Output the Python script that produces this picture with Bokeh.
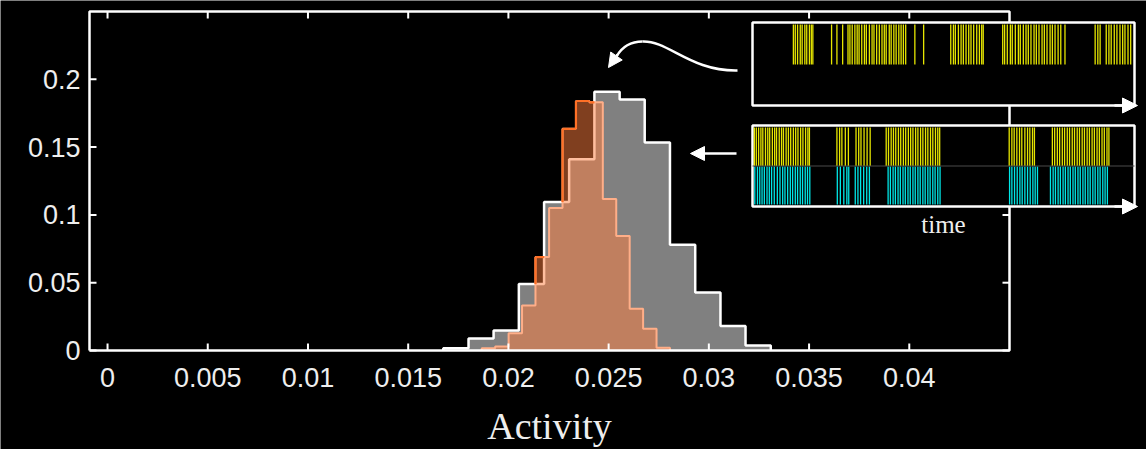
import numpy as np
from bokeh.plotting import figure
from bokeh.models import Range1d, Arrow, NormalHead
from bokeh.core.properties import value
from bokeh.embed import file_html
from bokeh.resources import INLINE

# ---------------- data ----------------
x_ticks = [0.0, 0.005, 0.01, 0.015, 0.02, 0.025, 0.03, 0.035, 0.04]
x_tick_labels = ["0", "0.005", "0.01", "0.015", "0.02", "0.025", "0.03", "0.035", "0.04"]
y_ticks = [0.0, 0.05, 0.1, 0.15, 0.2]
y_tick_labels = ["0", "0.05", "0.1", "0.15", "0.2"]
x_label = "Activity"
inset_label = "time"
XLIM = (-0.0009, 0.045)
YLIM = (0.0, 0.25)

# gray histogram (white outline)
gray_edges = [0.01675, 0.01801, 0.01926, 0.02052, 0.02178, 0.02303, 0.02429,
              0.02555, 0.0268, 0.02806, 0.02932, 0.03058, 0.03183, 0.03309]
gray_heights = [0.0017, 0.0088, 0.0148, 0.049, 0.1095, 0.141, 0.1908,
                0.1851, 0.1534, 0.078, 0.0428, 0.018, 0.0037]

# orange (semi-transparent) histogram
orange_edges = [0.01867, 0.01934, 0.02001, 0.02068, 0.02135, 0.02203, 0.0227, 0.02337,
                0.02404, 0.02471, 0.02538, 0.02605, 0.02672, 0.02739, 0.02806]
orange_heights = [0.0017, 0.003, 0.0128, 0.0332, 0.0689, 0.105, 0.1635,
                  0.184, 0.183, 0.1118, 0.0844, 0.0308, 0.016, 0.002]

# inset spike rasters, time in % of the inset width
top_spikes = [10.7, 11.2, 11.8, 12.5, 13.0, 13.7, 14.2, 14.9, 15.4, 15.8,
              20.7, 22.1, 23.6,
              25.0, 25.5, 26.1, 26.8, 27.4, 27.9, 28.6, 29.3, 29.8, 30.6, 31.3, 31.8, 32.5,
              33.2, 33.9, 34.5, 35.0, 35.8, 36.3, 37.0, 37.6, 38.3, 38.9, 39.5, 40.1,
              42.5, 44.8,
              51.9, 52.6, 53.1, 53.9, 54.6, 55.2, 55.9, 56.6, 57.2, 57.9, 58.7, 59.4, 60.0, 60.4,
              65.5, 66.0, 66.7, 67.5, 68.0, 68.8, 69.6, 70.1, 70.9, 71.6, 72.2, 72.9, 73.7,
              74.3, 75.0, 75.8, 76.4, 77.1, 77.9, 78.5, 79.2, 80.0, 80.7, 81.8,
              89.7, 90.4, 91.0, 92.6, 93.3, 93.9, 94.7, 95.4, 96.2, 96.9, 97.5, 98.3, 99.0]
bottom_yellow_spikes = [0.5, 1.0, 1.6, 2.2, 2.7, 3.4, 4.0, 4.5, 5.2, 5.8, 6.3, 7.0, 7.6, 8.1, 8.8,
                        9.4, 10.0, 10.7, 11.3, 11.9, 12.6, 13.2, 13.9, 14.5, 14.9,
                        22.1, 22.8, 23.4, 24.3, 25.1,
                        27.1, 27.8, 28.4, 29.2, 30.0, 30.8,
                        35.0, 35.6, 36.3, 36.9, 37.5, 38.2, 38.8, 39.5, 40.1, 40.8, 41.4, 42.0,
                        42.7, 43.3, 44.0, 44.6, 45.3, 45.9, 46.6, 47.2, 47.9, 48.5, 49.0,
                        67.2, 67.9, 68.5, 69.2, 69.9, 70.5, 71.3, 72.0, 72.6, 73.3, 73.8,
                        78.5, 79.1, 79.8, 80.4, 81.1, 81.7, 82.4, 83.0, 83.7, 84.3, 85.0, 85.6,
                        86.3, 86.9, 87.6, 88.2, 88.9, 89.5, 90.2, 90.8, 91.5, 92.1, 92.8, 93.3]
bottom_cyan_spikes = [0.6, 1.3, 1.9, 2.5, 3.1, 3.8, 4.4, 5.0, 5.7, 6.5, 7.2, 7.9, 8.5, 9.2, 9.9,
                      10.5, 11.2, 11.8, 12.5, 13.1, 13.8, 14.4, 15.0,
                      22.2, 23.0, 23.9, 24.7, 25.2,
                      26.9, 27.6, 28.3, 29.1, 29.9, 30.6,
                      35.5, 36.1, 36.8, 37.4, 38.1, 38.7, 39.4, 40.0, 40.7, 41.3, 42.0, 42.6,
                      43.3, 43.9, 44.6, 45.2, 45.9, 46.5, 47.2, 47.8, 48.5, 49.1,
                      67.3, 67.9, 68.6, 69.3, 70.0, 70.6, 71.3, 72.0, 72.7, 73.4, 74.0, 74.6,
                      78.0, 78.7, 79.3, 80.0, 80.6, 81.3, 81.9, 82.6, 83.2, 83.9, 84.5, 85.2,
                      85.8, 86.5, 87.1, 87.8, 88.4, 89.1, 89.7, 90.4, 91.0, 91.7, 92.3, 92.9]

# ---------------- layout (pixels) ----------------
W, H = 1146, 449
AX_L, AX_R, AX_T, AX_B = 89, 1009, 11, 350
TICK = 7
sx = (AX_R - AX_L) / (XLIM[1] - XLIM[0])
sy = (AX_B - AX_T) / (YLIM[1] - YLIM[0])
FS_TICK = 27
TXT = "#eeeeee"
WHITE = "#ffffff"

p = figure(width=W, height=H, output_backend="svg", toolbar_location=None,
           x_axis_location=None, y_axis_location=None,
           x_range=Range1d(XLIM[0] - AX_L / sx, XLIM[1] + (W - AX_R) / sx),
           y_range=Range1d(YLIM[0] - (H - AX_B) / sy, YLIM[1] + AX_T / sy),
           min_border_left=0, min_border_right=0, min_border_top=0, min_border_bottom=0)
p.extra_x_ranges = {"px": Range1d(0, W)}
p.extra_y_ranges = {"px": Range1d(H, 0)}
p.background_fill_color = "black"
p.border_fill_color = "black"
p.outline_line_color = None
p.grid.visible = False


def step_path(edges, heights):
    xs, ys = [edges[0]], [0.0]
    for k, h in enumerate(heights):
        xs += [edges[k], edges[k + 1]]
        ys += [h, h]
    xs.append(edges[-1]); ys.append(0.0)
    return xs, ys


# gray histogram
gx, gy = step_path(gray_edges, gray_heights)
p.patch(gx, gy, fill_color="#808080", line_color=None)
p.line(gx, gy, line_color=WHITE, line_width=2.5)

# orange histogram
ox, oy = step_path(orange_edges, orange_heights)
p.patch(ox, oy, fill_color="#ff7e3e", fill_alpha=0.5, line_color=None)
p.line(ox, oy, line_color="#ffae88", line_width=2)

# bright part of the orange outline: where it lies over the black background
ge, gh = np.array(gray_edges), np.array(gray_heights)
oe, oh = np.array(orange_edges), np.array(orange_heights)


def gray_at(x):
    i = np.searchsorted(ge, x, side="right") - 1
    return float(gh[i]) if 0 <= i < len(gh) else 0.0


bxs, bys = [], []
for k in range(len(oh)):
    a, b, h = oe[k], oe[k + 1], oh[k]
    cuts = [a] + [e for e in ge if a < e < b] + [b]
    for u, v in zip(cuts[:-1], cuts[1:]):
        if h > gray_at((u + v) / 2) + 1e-9:
            bxs.append([u, v]); bys.append([h, h])
for k in range(len(oe)):
    x = oe[k]
    hl = oh[k - 1] if k > 0 else 0.0
    hr = oh[k] if k < len(oh) else 0.0
    lo, hi = min(hl, hr), max(hl, hr)
    g = gray_at(x + 1e-7) if hl > hr else gray_at(x - 1e-7)
    lo2 = max(lo, g)
    if hi > lo2 + 1e-9:
        bxs.append([x, x]); bys.append([lo2, hi])
p.multi_line(bxs, bys, line_color="#ff7026", line_width=2.2)

# axes box and inward ticks
p.line([XLIM[0], XLIM[1], XLIM[1], XLIM[0], XLIM[0]],
       [YLIM[0], YLIM[0], YLIM[1], YLIM[1], YLIM[0]], line_color=WHITE, line_width=2.5)
tx = np.array(x_ticks); ty = np.array(y_ticks)
p.segment(x0=tx, y0=YLIM[0], x1=tx, y1=YLIM[0] + TICK / sy, line_color=WHITE, line_width=2)
p.segment(x0=tx, y0=YLIM[1], x1=tx, y1=YLIM[1] - TICK / sy, line_color=WHITE, line_width=2)
p.segment(x0=XLIM[0], y0=ty, x1=XLIM[0] + TICK / sx, y1=ty, line_color=WHITE, line_width=2)
p.segment(x0=XLIM[1], y0=ty, x1=XLIM[1] - TICK / sx, y1=ty, line_color=WHITE, line_width=2)

# tick labels and axis label (y positions are the texts' vertical centres)
p.text(x=tx, y=np.full(len(tx), YLIM[0] - 27 / sy), text=x_tick_labels,
       text_font=value("Liberation Sans"), text_font_size=f"{FS_TICK}px",
       text_align="center", text_baseline="middle", text_color=TXT)
p.text(x=np.full(len(ty), XLIM[0] - 9 / sx), y=ty, text=y_tick_labels,
       text_font=value("Liberation Sans"), text_font_size=f"{FS_TICK}px",
       text_align="right", text_baseline="middle", text_color=TXT)
p.text(x=[(XLIM[0] + XLIM[1]) / 2], y=[YLIM[0] - 75 / sy], text=[x_label],
       text_font=value("Liberation Serif"), text_font_size="38px",
       text_align="center", text_baseline="middle", text_color=TXT)

# ---------------- inset (pixel coordinates) ----------------
IN_X0, IN_X1 = 752, 1134
TOP_BOX = (22, 105)
BOT_BOX = (125, 206)
kw = dict(x_range_name="px", y_range_name="px")

p.quad(left=[IN_X0, IN_X0], right=[IN_X1, IN_X1], top=[TOP_BOX[0], BOT_BOX[0]],
       bottom=[TOP_BOX[1], BOT_BOX[1]], fill_color="black", line_color=WHITE, line_width=2.5, **kw)


def tpx(ts):
    return IN_X0 + np.array(ts) / 100.0 * (IN_X1 - IN_X0)


xs = tpx(top_spikes)
p.segment(x0=xs, y0=24, x1=xs, y1=64, line_color="#ffff00", line_width=1.3, line_alpha=0.9, **kw)
mid = (BOT_BOX[0] + BOT_BOX[1]) / 2
xs = tpx(bottom_yellow_spikes)
p.segment(x0=xs, y0=BOT_BOX[0] + 2, x1=xs, y1=mid, line_color="#ffff00", line_width=1.3, line_alpha=0.9, **kw)
xs = tpx(bottom_cyan_spikes)
p.segment(x0=xs, y0=mid + 0.5, x1=xs, y1=BOT_BOX[1] - 2, line_color="#00ffff", line_width=1.3, line_alpha=0.9, **kw)
p.line([IN_X0, IN_X1], [mid, mid], line_color="#4a4a4a", line_width=1, **kw)

for yb in (TOP_BOX[1], BOT_BOX[1]):
    p.add_layout(Arrow(end=NormalHead(size=15, fill_color=WHITE, line_color=WHITE),
                       x_start=IN_X1 - 20, y_start=yb, x_end=IN_X1 + 3, y_end=yb,
                       line_color=WHITE, line_width=2.5, **kw))

# straight arrow to the orange histogram
p.add_layout(Arrow(end=NormalHead(size=14, fill_color=WHITE, line_color=WHITE),
                   x_start=736, y_start=153, x_end=690, y_end=153,
                   line_color=WHITE, line_width=2.5, **kw))
# curved arrow to the gray histogram
p.bezier(x0=[737], y0=[70], x1=[642], y1=[41], cx0=[690], cy0=[71], cx1=[668], cy1=[40],
         line_color=WHITE, line_width=2.5, **kw)
p.bezier(x0=[642], y0=[41], x1=[616], y1=[56], cx0=[627], cy0=[41], cx1=[620], cy1=[49],
         line_color=WHITE, line_width=2.5, **kw)
p.add_layout(Arrow(end=NormalHead(size=14, fill_color=WHITE, line_color=WHITE),
                   x_start=617, y_start=54, x_end=608, y_end=67,
                   line_color=WHITE, line_width=2.5, **kw))

p.text(x=[943], y=[224], text=[inset_label], text_font=value("Liberation Serif"),
       text_font_size="25px", text_align="center", text_baseline="middle",
       text_color=TXT, **kw)

open("out.html", "w").write(file_html(p, INLINE))
